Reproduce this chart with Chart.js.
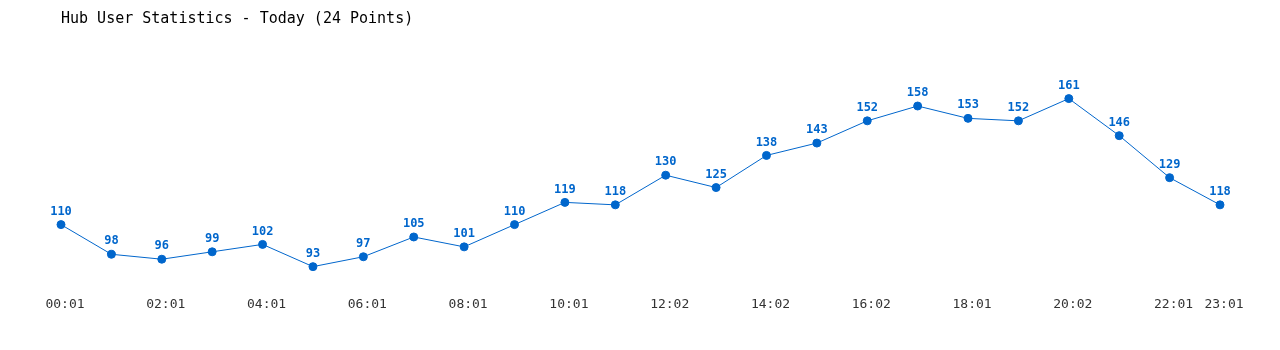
<!DOCTYPE html>
<html>
<head>
<meta charset="utf-8">
<script src="https://cdn.jsdelivr.net/npm/chart.js@4/dist/chart.umd.min.js"></script>
<style>
  html, body { margin: 0; padding: 0; background: #fff; }
  #wrap { width: 1280px; height: 350px; }
</style>
</head>
<body>
<div id="wrap"><canvas id="graficoUsuarios" width="1280" height="350"></canvas></div>
<script>
// Dados do gráfico
var horarios = ['00:01', '01:01', '02:01', '03:01', '04:01', '05:01', '06:01', '07:01',
                '08:01', '09:01', '10:01', '11:01', '12:02', '13:02', '14:02', '15:02',
                '16:02', '17:02', '18:01', '19:01', '20:02', '21:01', '22:01', '23:01'];
var usuarios = [110, 98, 96, 99, 102, 93, 97, 105, 101, 110, 119, 118,
                130, 125, 138, 143, 152, 158, 153, 152, 161, 146, 129, 118];
var titulo = 'Hub User Statistics - Today (24 Points)';

var azul = '#0066cc';
var fonteMono = "'DejaVu Sans Mono', 'Liberation Mono', monospace";

// Plugin simples para escrever o valor acima de cada ponto
var rotulosPontos = {
    id: 'rotulosPontos',
    afterDatasetsDraw: function(chart) {
        var ctx = chart.ctx;
        var meta = chart.getDatasetMeta(0);
        ctx.save();
        ctx.fillStyle = azul;
        ctx.font = 'bold 12px ' + fonteMono;
        ctx.textAlign = 'center';
        ctx.textBaseline = 'middle';
        meta.data.forEach(function(ponto, i) {
            ctx.fillText(String(usuarios[i]), ponto.x, ponto.y - 13);
        });
        ctx.restore();
    }
};

var config = {
    type: 'line',
    data: {
        labels: horarios,
        datasets: [{
            label: 'Users',
            data: usuarios,
            borderColor: azul,
            backgroundColor: azul,
            borderWidth: 1,
            pointRadius: 4,
            pointHoverRadius: 4,
            pointBackgroundColor: azul,
            pointBorderColor: azul,
            tension: 0,
            fill: false
        }]
    },
    options: {
        responsive: false,
        animation: false,
        layout: {
            padding: { left: 61, right: 60, top: 10, bottom: 28 }
        },
        plugins: {
            legend: { display: false },
            tooltip: { enabled: false },
            title: {
                display: true,
                text: titulo,
                align: 'start',
                color: '#000',
                font: { family: fonteMono, size: 15, weight: 'normal' },
                padding: { top: 0, bottom: 36 }
            }
        },
        scales: {
            x: {
                offset: false,
                grid: { display: false, drawTicks: false },
                border: { display: false },
                ticks: {
                    autoSkip: false,
                    maxRotation: 0,
                    padding: 10,
                    labelOffset: 4,
                    color: '#333',
                    font: { family: fonteMono, size: 13 },
                    callback: function(valor, indice) {
                        if (indice % 2 === 0 || indice === horarios.length - 1) {
                            return horarios[indice];
                        }
                        return '';
                    }
                }
            },
            y: {
                display: false,
                min: 85,
                max: 175
            }
        }
    },
    plugins: [rotulosPontos]
};

var ctx = document.getElementById('graficoUsuarios').getContext('2d');
new Chart(ctx, config);
</script>
</body>
</html>
